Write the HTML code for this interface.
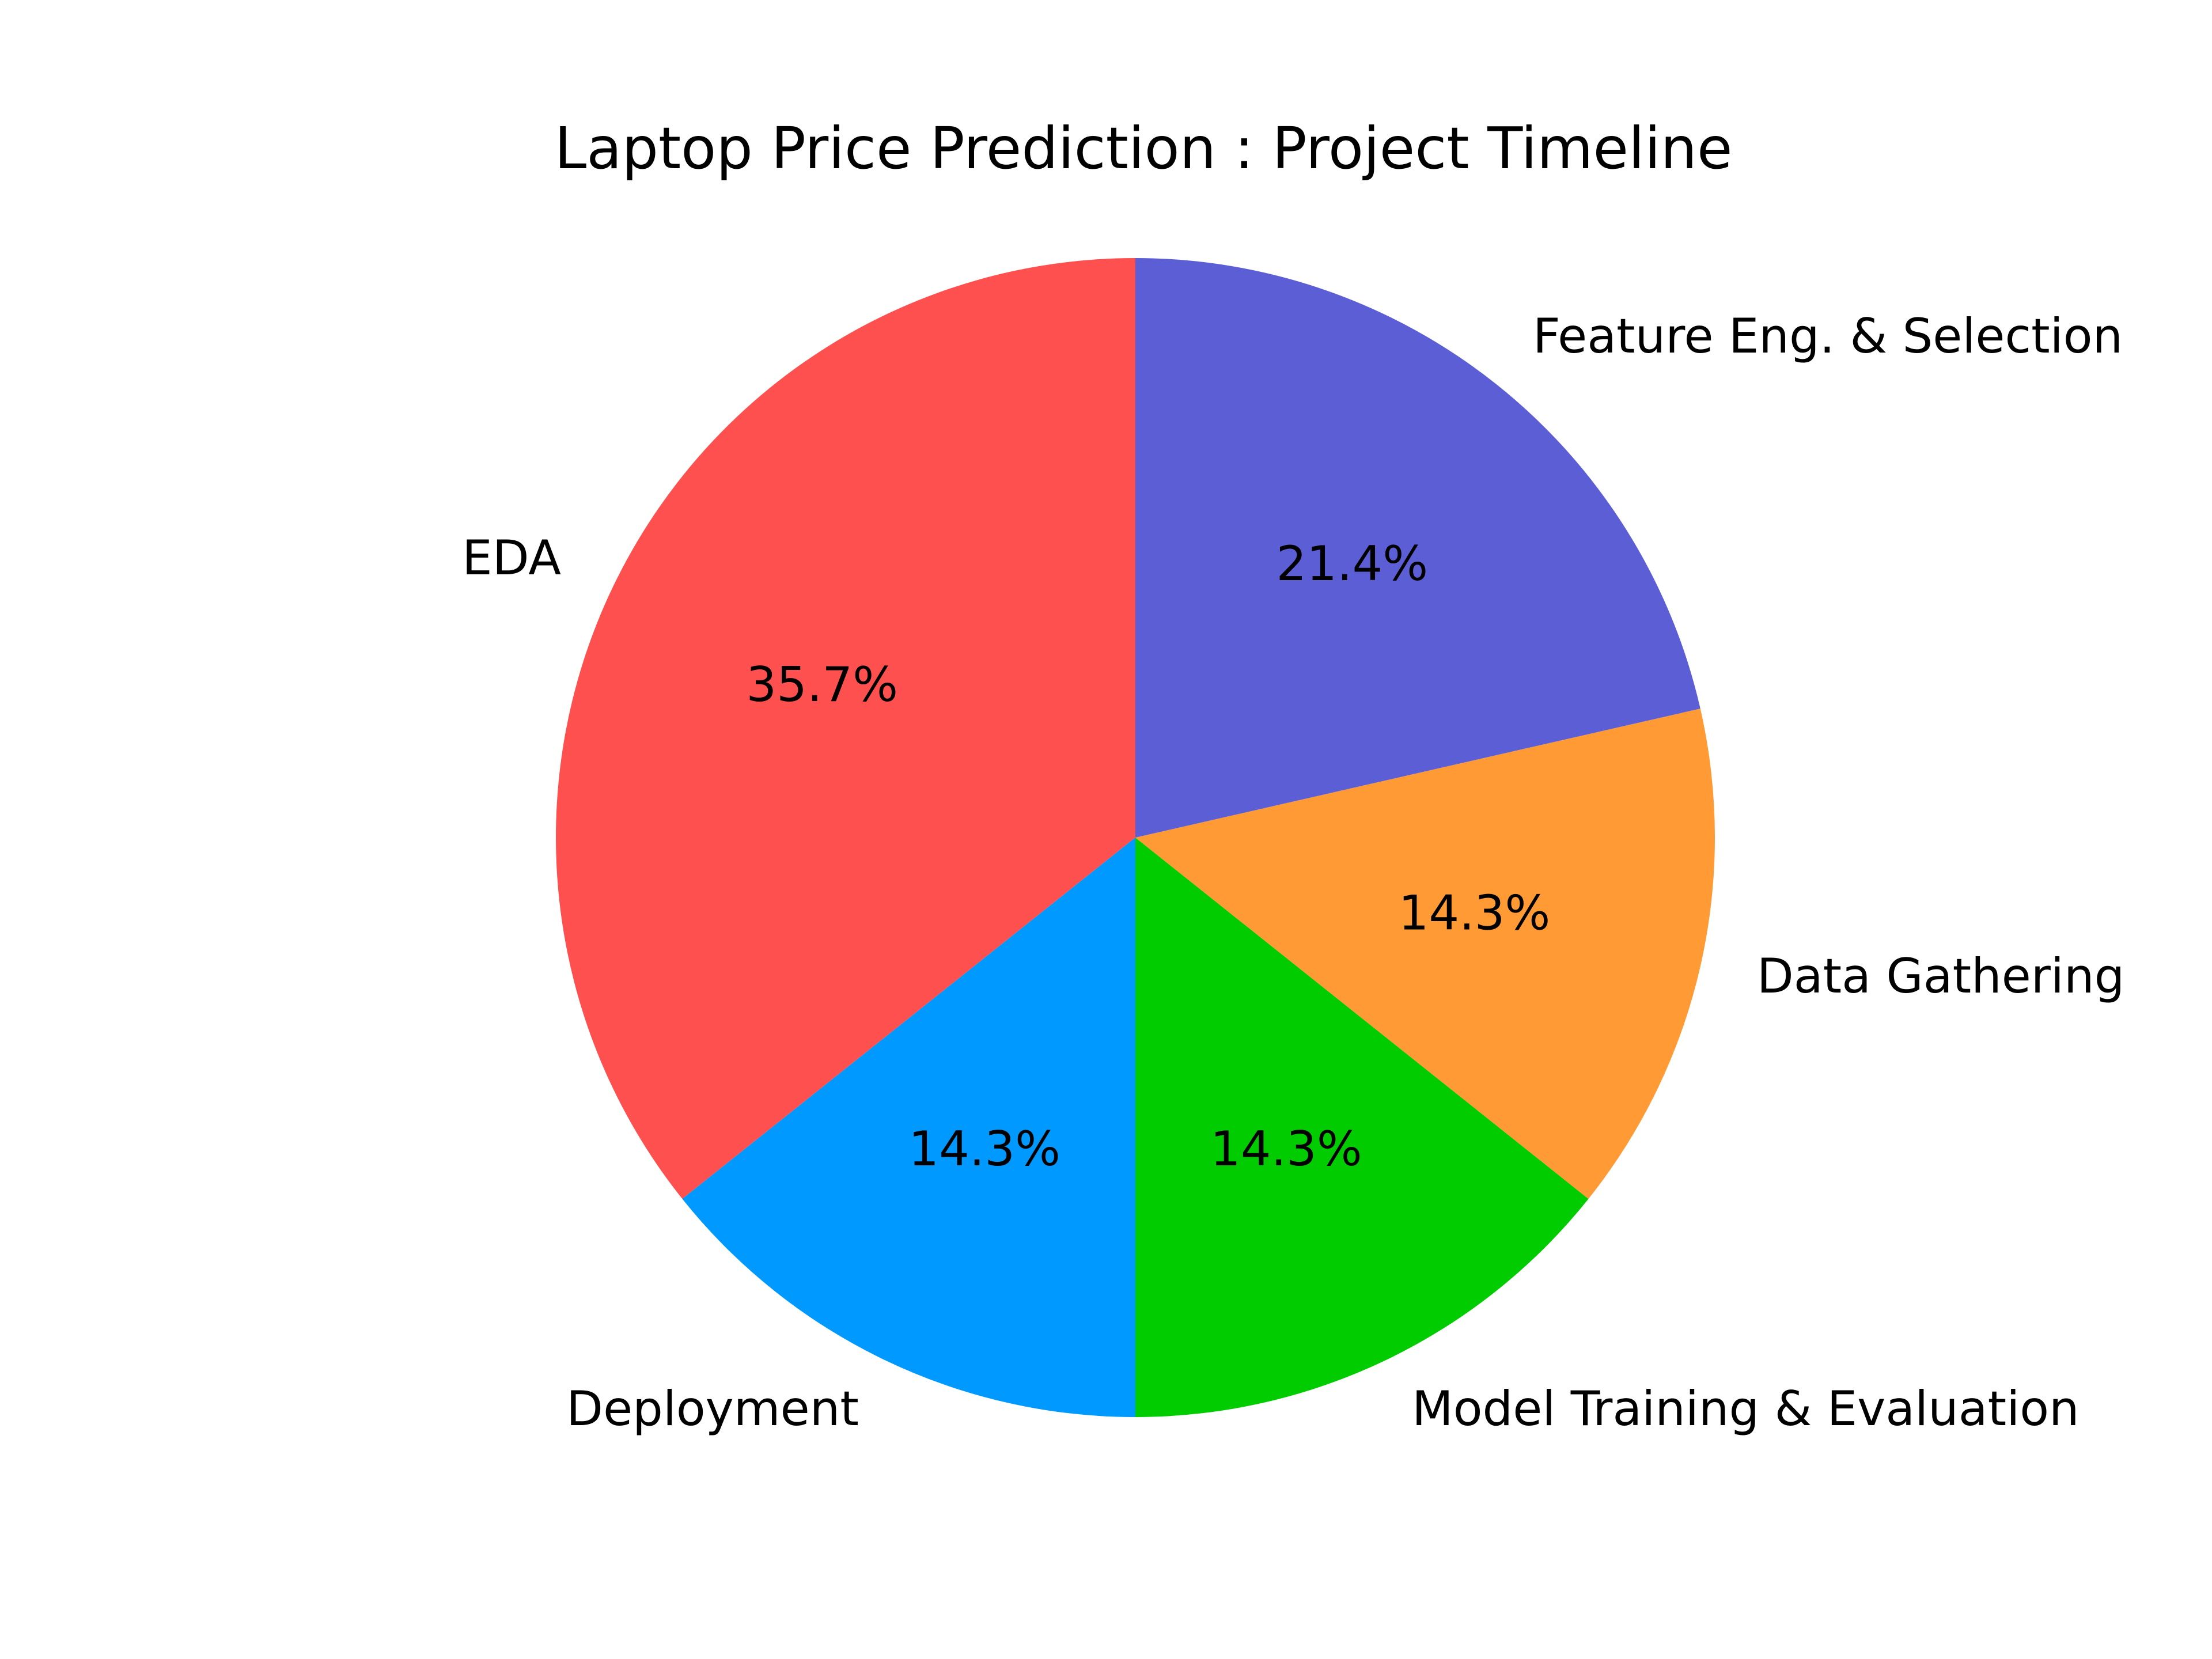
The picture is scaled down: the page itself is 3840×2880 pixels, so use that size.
<!DOCTYPE html>
<html><head><meta charset="utf-8"><style>
html,body{margin:0;padding:0;background:#fff;}
svg{display:block;font-family:"DejaVu Sans","Liberation Sans",sans-serif;}
</style></head><body>
<svg id="chart" width="3840" height="2880" viewBox="0 0 3840 2880" xmlns="http://www.w3.org/2000/svg">
<rect width="3840" height="2880" fill="#ffffff"/>
<text x="1985" y="292" text-anchor="middle" font-size="100" fill="#000">Laptop Price Prediction : Project Timeline</text>
<g id="slices"></g>
<g id="labels"></g>
</svg>
<script>
const categories = ["EDA", "Deployment", "Model Training & Evaluation", "Data Gathering", "Feature Eng. & Selection"];
const values = [5, 2, 2, 2, 3];
const colors = ["#ff5050", "#0099ff", "#00cc00", "#ff9a35", "#5c5ed6"];

const cx = 1971, cy = 1454, R = 1006;
const NS = "http://www.w3.org/2000/svg";
const total = values.reduce((a, b) => a + b, 0);
const sg = document.getElementById('slices');
const lg = document.getElementById('labels');
function pt(deg, r) { const a = deg * Math.PI / 180; return [cx + r * Math.cos(a), cy - r * Math.sin(a)]; }
let start = 90;
values.forEach((v, i) => {
  const sweep = v / total * 360;
  const end = start + sweep;
  const p1 = pt(start, R), p2 = pt(end, R);
  const large = sweep > 180 ? 1 : 0;
  const path = document.createElementNS(NS, 'path');
  path.setAttribute('d', `M${cx},${cy} L${p1[0]},${p1[1]} A${R},${R} 0 ${large} 0 ${p2[0]},${p2[1]} Z`);
  path.setAttribute('fill', colors[i]);
  
  
  sg.appendChild(path);
  const mid = start + sweep / 2;
  const lp = pt(mid, R * 1.1);
  const t = document.createElementNS(NS, 'text');
  t.setAttribute('x', lp[0]);
  t.setAttribute('y', lp[1] + 23);
  t.setAttribute('font-size', '83');
  t.setAttribute('text-anchor', Math.cos(mid * Math.PI / 180) >= 0 ? 'start' : 'end');
  t.textContent = categories[i];
  
  
  lg.appendChild(t);
  const pp = pt(mid, R * 0.6);
  const p = document.createElementNS(NS, 'text');
  p.setAttribute('x', pp[0]);
  p.setAttribute('y', pp[1] + 25);
  p.setAttribute('font-size', '83');
  p.setAttribute('text-anchor', 'middle');
  p.textContent = (v / total * 100).toFixed(1) + '%';
  
  
  lg.appendChild(p);
  start = end;
});
</script>
</body></html>
